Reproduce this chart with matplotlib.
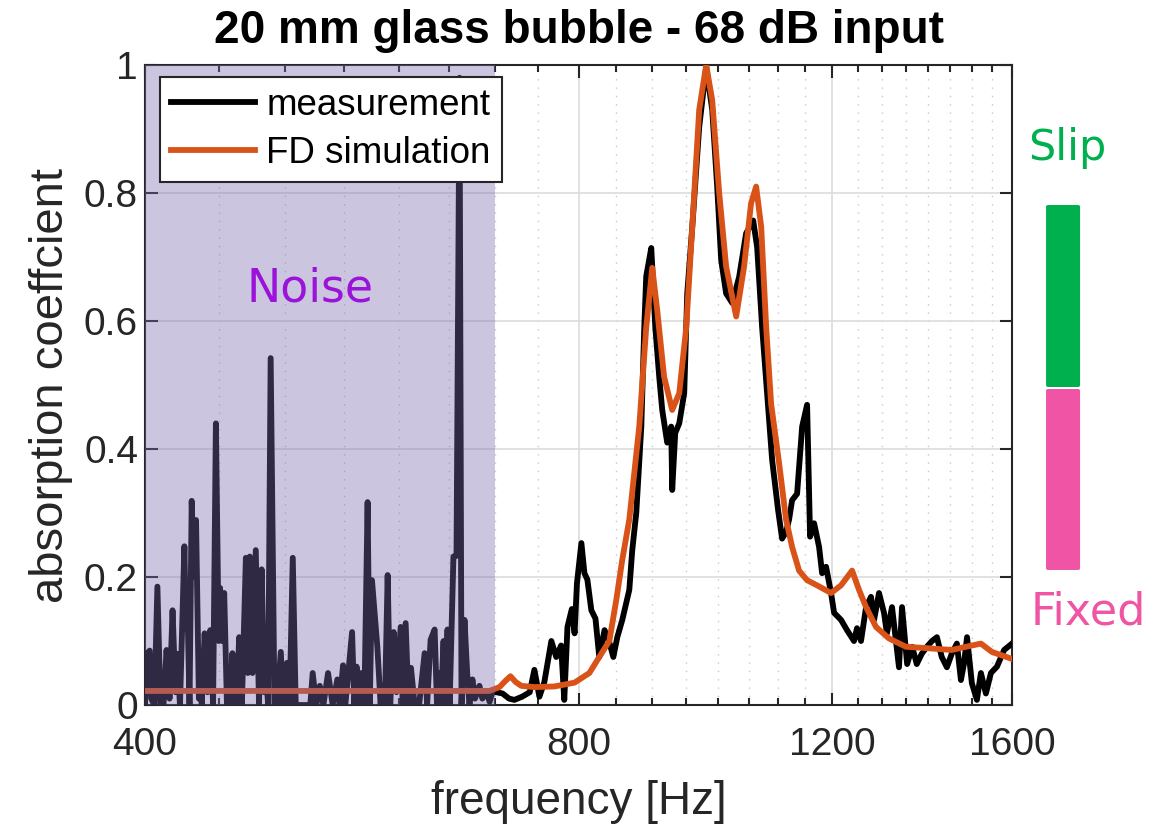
import matplotlib
matplotlib.use("Agg")
import matplotlib.pyplot as plt
from matplotlib.patches import FancyBboxPatch
from matplotlib.ticker import FixedLocator, NullFormatter

plt.rcParams['font.family'] = ['Liberation Sans', 'DejaVu Sans']

meas_f = [400, 401, 403, 404, 406, 408, 410, 412, 414, 416, 418, 420, 421, 423,
          426, 427, 428, 429.5, 431, 432.5, 434, 436, 437, 438, 440, 442, 444, 446,
          448, 450, 451, 452.5, 454, 456, 458, 460, 461.5, 463, 465, 467, 470, 471.5,
          473, 475, 477.5, 480, 482, 484, 485, 487, 489, 492, 494, 497, 499, 502,
          504, 506.6, 509, 511, 519, 521, 523, 526, 529, 532, 536, 540, 544, 546,
          549, 551, 557, 559, 561, 563, 565.5, 568, 571, 573, 575, 580, 583, 585,
          587, 589.6, 592, 595.3, 598, 602, 604, 606.8, 609.7, 612, 615.6, 620, 625.5,
          628, 631.5, 635.6, 638, 640.6, 642, 644.7, 646, 648.8, 651, 655, 658.2,
          661.4, 663.5, 666.7, 669.9, 672, 675.2, 678, 682.8, 686, 690.5, 694, 697.1,
          701.6, 708.5, 716, 722, 731, 740, 745.5, 751.5, 757.5, 766, 772, 778, 782,
          786, 791.5, 795, 798, 803.7, 807.6, 811.4, 816.6, 822, 827, 834, 840.4,
          845.8, 851.2, 858, 867.7, 871.8, 877.4, 884.5, 888.7, 891.5, 898.7, 900.1,
          904.5, 910.2, 914.6, 921.9, 927.8, 929.3, 933.8, 939.8, 947.3, 951.9, 959.6,
          970.3, 981.2, 990.7, 998.6, 1005, 1013, 1023, 1034.3, 1045.9, 1057.8,
          1064.5, 1073, 1081.6, 1090.3, 1100.7, 1107.8, 1114.8, 1120.3, 1125.7,
          1134.7, 1143.9, 1153, 1158.5, 1166, 1175.3, 1181, 1188.5, 1198, 1203.9,
          1217.3, 1229, 1242.8, 1248.8, 1256.8, 1267, 1277, 1283.3, 1293.5, 1303.9,
          1310, 1320.7, 1329, 1335.5, 1342, 1353, 1364, 1374, 1385, 1396.5, 1407.8,
          1419, 1430, 1441.8, 1453, 1465, 1474.5, 1481.6, 1489, 1500.6, 1512.7,
          1522.4, 1534.6, 1546.9, 1562, 1580, 1600]
meas_a = [0.0, 0.08, 0.085, 0.01, 0.0, 0.185, 0.0, 0.0, 0.086, 0.01, 0.148, 0.02, 0.08, 0.0,
          0.248, 0.12, 0.164, 0.0, 0.319, 0.2, 0.289, 0.01, 0.034, 0.0, 0.112, 0.02, 0.117, 0.0,
          0.44, 0.1, 0.183, 0.1, 0.175, 0.0, 0.0, 0.081, 0.0, 0.0, 0.106, 0.0, 0.23, 0.05,
          0.232, 0.05, 0.242, 0.0, 0.212, 0.02, 0.066, 0.0, 0.542, 0.0, 0.0, 0.083, 0.0, 0.066,
          0.0, 0.23, 0.0, 0.0, 0.0, 0.0, 0.05, 0.0, 0.03, 0.0, 0.05, 0.0, 0.04, 0.0,
          0.062, 0.0, 0.114, 0.0, 0.06, 0.0, 0.05, 0.0, 0.317, 0.0, 0.195, 0.09, 0.0, 0.03,
          0.0, 0.203, 0.0, 0.114, 0.02, 0.122, 0.0, 0.128, 0.0, 0.058, 0.0, 0.0, 0.081,
          0.0, 0.102, 0.118, 0.0, 0.05, 0.0, 0.1, 0.0, 0.118, 0.0, 0.232, 0.233,
          0.98, 0.0, 0.133, 0.04, 0.0, 0.04, 0.01, 0.03, 0.01, 0.02, 0.005, 0.02,
          0.02, 0.018, 0.01, 0.008, 0.013, 0.02, 0.055, 0.013, 0.036, 0.10, 0.075, 0.093, 0.008,
          0.122, 0.15, 0.112, 0.19, 0.253, 0.206, 0.196, 0.148, 0.135, 0.075, 0.117, 0.098,
          0.075, 0.106, 0.133, 0.18, 0.242, 0.30, 0.435, 0.59, 0.67, 0.714, 0.685,
          0.59, 0.513, 0.461, 0.41, 0.435, 0.336, 0.425, 0.44, 0.487, 0.643, 0.747,
          0.903, 0.997, 0.93, 0.81, 0.695, 0.643, 0.628, 0.669, 0.737, 0.757,
          0.715, 0.59, 0.487, 0.383, 0.305, 0.26, 0.27, 0.29, 0.32,
          0.33, 0.435, 0.469, 0.263, 0.284, 0.247, 0.206, 0.216, 0.175, 0.144,
          0.133, 0.117, 0.10, 0.12, 0.10, 0.153, 0.169, 0.133, 0.175, 0.144,
          0.112, 0.153, 0.10, 0.059, 0.153, 0.064, 0.091, 0.064, 0.08, 0.091, 0.10,
          0.106, 0.075, 0.059, 0.08, 0.096, 0.039, 0.064, 0.106, 0.034, 0.008,
          0.05, 0.018, 0.05, 0.06, 0.086, 0.096]

# FD simulation (smooth)
sim_f = [400, 693.8, 705, 712, 717.5, 723.5, 730, 745.5, 769.7, 795, 814, 827, 840.4,
         849.8, 858, 867.7, 881.6, 891.5, 900.1, 907.3, 917.3, 929.3, 939.8, 950.4,
         959.6, 970.3, 981.2, 990.7, 1001.8, 1013, 1029.4, 1042.5, 1054.2, 1062.8,
         1071.4, 1080, 1088.6, 1102.5, 1114.8, 1125.7, 1138.3, 1153, 1171.5, 1198,
         1217.3, 1239, 1252.8, 1267, 1287.3, 1314.3, 1350.5, 1394.3, 1453, 1486.5,
         1522.4, 1549.4, 1600]
sim_a = [0.022, 0.022, 0.028, 0.038, 0.045, 0.036, 0.03, 0.028, 0.029, 0.035, 0.05, 0.075, 0.1,
         0.164, 0.227, 0.29, 0.435, 0.59, 0.683, 0.617, 0.513, 0.461, 0.487, 0.59,
         0.747, 0.93, 1.0, 0.945, 0.8, 0.685, 0.607, 0.685, 0.784, 0.81,
         0.747, 0.59, 0.47, 0.378, 0.29, 0.247, 0.21, 0.195, 0.187, 0.175,
         0.187, 0.21, 0.18, 0.153, 0.122, 0.104, 0.091, 0.089, 0.086, 0.091,
         0.096, 0.083, 0.072]

xticks = [400, 800, 1200, 1600]
xminor = list(range(450, 1600, 50))
yticks = [0, 0.2, 0.4, 0.6, 0.8, 1]
ytick_labels = ['0', '0.2', '0.4', '0.6', '0.8', '1']
noise_band = (400, 700)

fig = plt.figure(figsize=(11.5, 8.31), dpi=100)
ax = fig.add_axes([0.1261, 0.1516, 0.7539, 0.7702])

ax.plot(meas_f, meas_a, color='black', lw=4.2, label='measurement', zorder=3,
        solid_joinstyle='round')
ax.plot(sim_f, sim_a, color='#d95319', lw=4.2, label='FD simulation', zorder=4,
        solid_joinstyle='round')
ax.axvspan(*noise_band, color='#7a6bb0', alpha=0.39, lw=0, zorder=5)

ax.set_xscale('log')
ax.set_xlim(400, 1600)
ax.set_ylim(0, 1)
ax.xaxis.set_major_locator(FixedLocator(xticks))
ax.xaxis.set_minor_locator(FixedLocator(xminor))
ax.xaxis.set_minor_formatter(NullFormatter())
ax.set_xticklabels([str(t) for t in xticks])
ax.set_yticks(yticks)
ax.set_yticklabels(ytick_labels)

ax.grid(which='major', color='#dcdcdc', lw=1.2, ls='-', zorder=0)
ax.grid(which='minor', axis='x', color='#c8c8c8', lw=1.0, ls=(0, (1, 5)), zorder=0)
ax.set_axisbelow(True)

ax.tick_params(which='both', direction='in', top=True, right=True,
               colors='#262626', labelsize=28, width=1.5)
ax.tick_params(which='major', length=9)
ax.tick_params(axis='x', which='major', pad=16)
ax.tick_params(axis='y', which='major', pad=5)
ax.tick_params(which='minor', length=5)
for s in ax.spines.values():
    s.set_color('#262626')
    s.set_linewidth(1.5)

ax.set_xlabel('frequency [Hz]', fontsize=33, color='#262626', labelpad=12)
ax.set_ylabel('absorption coeffcient', fontsize=34, color='#262626', labelpad=8)
ax.set_title('20 mm glass bubble - 68 dB input', fontsize=33, fontweight='bold', pad=16)

leg = ax.legend(loc='upper left', bbox_to_anchor=(0.017, 0.981), borderaxespad=0,
                fontsize=26.5, handlelength=2.3, handletextpad=0.3, labelspacing=0.35,
                borderpad=0.3, fancybox=False, framealpha=1, edgecolor='#262626')
leg.get_frame().set_linewidth(1.5)
leg.set_zorder(10)

ax.text(521, 0.65, 'Noise', color='#9b12d9', fontsize=33, family='DejaVu Sans',
        ha='center', va='center', zorder=6)

# slip / fixed indicator at the right
fig.patches.append(FancyBboxPatch((0.9096, 0.5343), 0.0296, 0.219,
                                  boxstyle='round,pad=0,rounding_size=0.002',
                                  transform=fig.transFigure, color='#00b04f', lw=0))
fig.patches.append(FancyBboxPatch((0.9096, 0.3141), 0.0296, 0.2178,
                                  boxstyle='round,pad=0,rounding_size=0.002',
                                  transform=fig.transFigure, color='#ef55a4', lw=0))
fig.text(0.928, 0.822, 'Slip', color='#00b04f', fontsize=31, family='DejaVu Sans',
         ha='center', va='center')
fig.text(0.946, 0.263, 'Fixed', color='#ef55a4', fontsize=32, family='DejaVu Sans',
         ha='center', va='center')

fig.savefig('out.png', dpi=100)
